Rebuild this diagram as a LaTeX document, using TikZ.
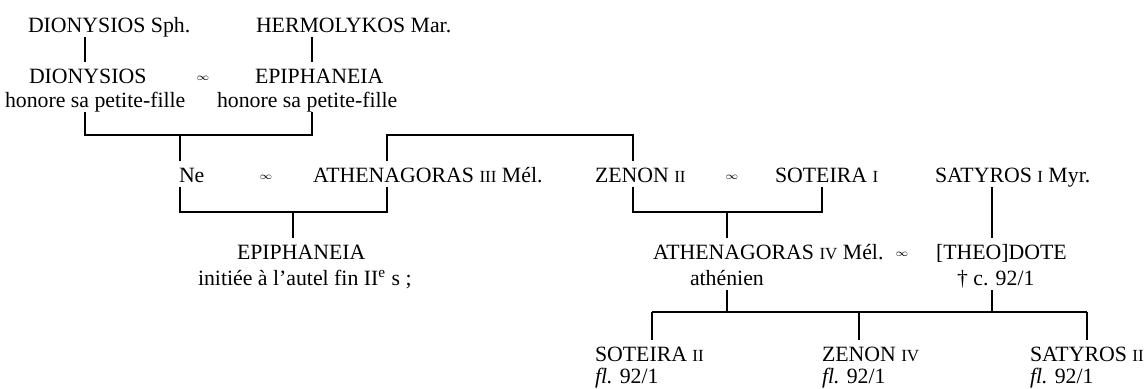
\documentclass[tikz,border=0pt]{standalone}
\usepackage{fontspec}
\setmainfont{Liberation Serif}
\usetikzlibrary{positioning,calc}

\newcommand{\rn}[1]{{\fontsize{8.5}{8}\selectfont #1}}

\begin{document}
\begin{tikzpicture}[x=0.5pt, y=-0.5pt,
  pers/.style={anchor=base west, inner sep=0pt, outer sep=0pt,
               font=\fontsize{10.9}{12}\selectfont, text height=10.5pt, text depth=2.5pt},
  mar/.style={inner sep=0pt, font=\fontsize{5}{5}\selectfont},
  lnk/.style={line width=0.55pt}
]
\useasboundingbox (0,0) rectangle (1146,388);

% generation 1
\node[pers] (dionS) at (28,32) {DIONYSIOS Sph.};
\node[pers] (hermM) at (256,32) {HERMOLYKOS Mar.};

\node[pers] (dion) at (29,83) {DIONYSIOS};
\node[mar] (mA) at (203,78) {$\infty$};
\node[pers] (epiA) at (255,83) {EPIPHANEIA};
\node[pers] (honD) at (5,107) {honore sa petite-fille};
\node[pers] (honE) at (217,107) {honore sa petite-fille};

% generation 2
\node[pers] (ne) at (179,182) {Ne};
\node[mar] (mB) at (266,177) {$\infty$};
\node[pers] (ath3) at (313,182) {ATHENAGORAS \rn{III} Mél.};
\node[pers] (zen2) at (595,182) {ZENON \rn{II}};
\node[mar] (mC) at (732,177) {$\infty$};
\node[pers] (sot1) at (775,182) {SOTEIRA \rn{I}};
\node[pers] (sat1) at (935,182) {SATYROS \rn{I} Myr.};

% generation 3
\node[pers] (epiB) at (237,259) {EPIPHANEIA};
\node[pers] (initB) at (198,285) {initiée à l’autel fin II\textsuperscript{e} s ;};
\node[pers] (ath4) at (653,259) {ATHENAGORAS \rn{IV} Mél.};
\node[mar] (mD) at (902,254) {$\infty$};
\node[pers] (athen) at (690,285) {athénien};
\node[pers] (theo) at (936,259) {[THEO]DOTE};
\node[pers] (theoD) at (957,285) {† c. 92/1};

% generation 4
\node[pers] (sot2) at (595,361) {SOTEIRA \rn{II}};
\node[pers] (sot2f) at (595,383) {\textit{fl.} 92/1};
\node[pers] (zen4) at (822,361) {ZENON \rn{IV}};
\node[pers] (zen4f) at (822,383) {\textit{fl.} 92/1};
\node[pers] (sat2) at (1030,361) {SATYROS \rn{II}};
\node[pers] (sat2f) at (1030,383) {\textit{fl.} 92/1};

% bar ends
\coordinate (cD) at (85,135);
\coordinate (cE) at (312,135);
\coordinate (cNe) at (180,135);
\coordinate (cA3) at (387,135);
\coordinate (cZ2) at (633,135);
\coordinate (bNe) at (180,212);
\coordinate (bA3) at (387,212);
\coordinate (bEp) at (293,212);
\coordinate (bZ2) at (633,212);
\coordinate (bS1) at (822,212);
\coordinate (bA4) at (727,212);
\coordinate (cSa) at (992,0);
\coordinate (kA) at (727,312);
\coordinate (kT) at (992,312);
\coordinate (kS) at (652,312);
\coordinate (kZ) at (859,312);
\coordinate (kY) at (1087,312);

\draw[lnk] (dionS.south -| cD) -- (dion.north -| cD);
\draw[lnk] (hermM.south -| cE) -- (epiA.north -| cE);
\draw[lnk] (honD.south -| cD) -- (cD) -- (cE) -- (honE.south -| cE);
\draw[lnk] (cNe) -- (ne.north -| cNe);
\draw[lnk] (ath3.north -| cA3) -- (cA3) -- (cZ2) -- (zen2.north -| cZ2);

\draw[lnk] (ne.south -| bNe) -- (bNe) -- (bA3) -- (ath3.south -| bA3);
\draw[lnk] (bEp) -- (epiB.north -| bEp);
\draw[lnk] (zen2.south -| bZ2) -- (bZ2) -- (bS1) -- (sot1.south -| bS1);
\draw[lnk] (bA4) -- (ath4.north -| bA4);
\draw[lnk] (sat1.south -| cSa) -- (theo.north -| cSa);

\draw[lnk] (athen.south -| kA) -- (kA);
\draw[lnk] (theoD.south -| kT) -- (kT);
\draw[lnk] (kS) -- (kY);
\draw[lnk] (kS) -- (sot2.north -| kS);
\draw[lnk] (kZ) -- (zen4.north -| kZ);
\draw[lnk] (kY) -- (sat2.north -| kY);
\end{tikzpicture}
\end{document}
